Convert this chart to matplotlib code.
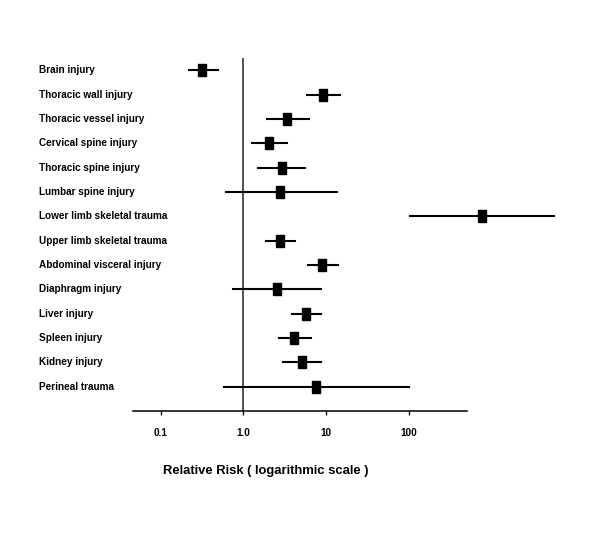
import matplotlib
matplotlib.use("Agg")
import matplotlib.pyplot as plt
import matplotlib.transforms as mtransforms
import numpy as np

categories = ["Brain injury", "Thoracic wall injury", "Thoracic vessel injury",
              "Cervical spine injury", "Thoracic spine injury", "Lumbar spine injury",
              "Lower limb skeletal trauma", "Upper limb skeletal trauma",
              "Abdominal visceral injury", "Diaphragm injury", "Liver injury",
              "Spleen injury", "Kidney injury", "Perineal trauma"]
rr = [0.32, 9.25, 3.4, 2.06, 2.9, 2.77, 763, 2.77, 9.0, 2.55, 5.77, 4.1, 5.16, 7.6]
lo = [0.22, 5.9, 1.93, 1.26, 1.49, 0.61, 103, 1.86, 6.1, 0.745, 3.9, 2.7, 3.0, 0.59]
hi = [0.49, 14.8, 6.17, 3.4, 5.6, 13.6, 5650, 4.17, 13.9, 8.7, 8.7, 6.5, 8.7, 100]
tick_vals = [0.1, 1, 10, 100]
tick_labels = ["0.1", "1.0", "10", "100"]

plt.rcParams['font.family'] = ['Liberation Sans', 'DejaVu Sans']

fig = plt.figure(figsize=(6, 5.5), dpi=100)
ax = fig.add_axes([0.2212, 0.2527, 0.5567, 0.6418])

y = np.arange(len(categories))
rr_a = np.array(rr); lo_a = np.array(lo); hi_a = np.array(hi)
rect = [(-0.32, -0.5), (0.32, -0.5), (0.32, 0.5), (-0.32, 0.5), (-0.32, -0.5)]
eb = ax.errorbar(rr_a, y, xerr=[rr_a - lo_a, hi_a - rr_a], fmt='none',
                 ecolor='black', elinewidth=1.5, capsize=0.8, capthick=1.5)
for art in eb.get_children():
    art.set_clip_on(False)
ax.plot(rr_a, y, linestyle='none', marker=rect, markersize=8,
        color='black', clip_on=False, zorder=3)

ax.axvline(1, color='#444444', linewidth=1.3, zorder=1)

ax.set_xscale('log')
ax.set_xlim(0.046, 500)
ax.set_ylim(14, -0.5)
ax.set_xticks(tick_vals)
ax.set_xticklabels(tick_labels, fontsize=7.2, fontweight='bold')
ax.xaxis.set_minor_locator(matplotlib.ticker.NullLocator())
ax.tick_params(axis='x', length=3, width=1, pad=9)
ax.set_yticks([])
for s in ['top', 'right', 'left']:
    ax.spines[s].set_visible(False)
ax.spines['bottom'].set_linewidth(1.1)

trans = mtransforms.blended_transform_factory(fig.transFigure, ax.transData)
for yi, name in zip(y, categories):
    ax.text(39 / 600, yi, name, transform=trans,
            ha='left', va='center', fontsize=7.2, fontweight='bold')

fig.text(266 / 600, 1 - 471 / 550, "Relative Risk ( logarithmic scale )",
         ha='center', va='center', fontsize=9.4, fontweight='bold')

fig.savefig("out.png", dpi=100)
